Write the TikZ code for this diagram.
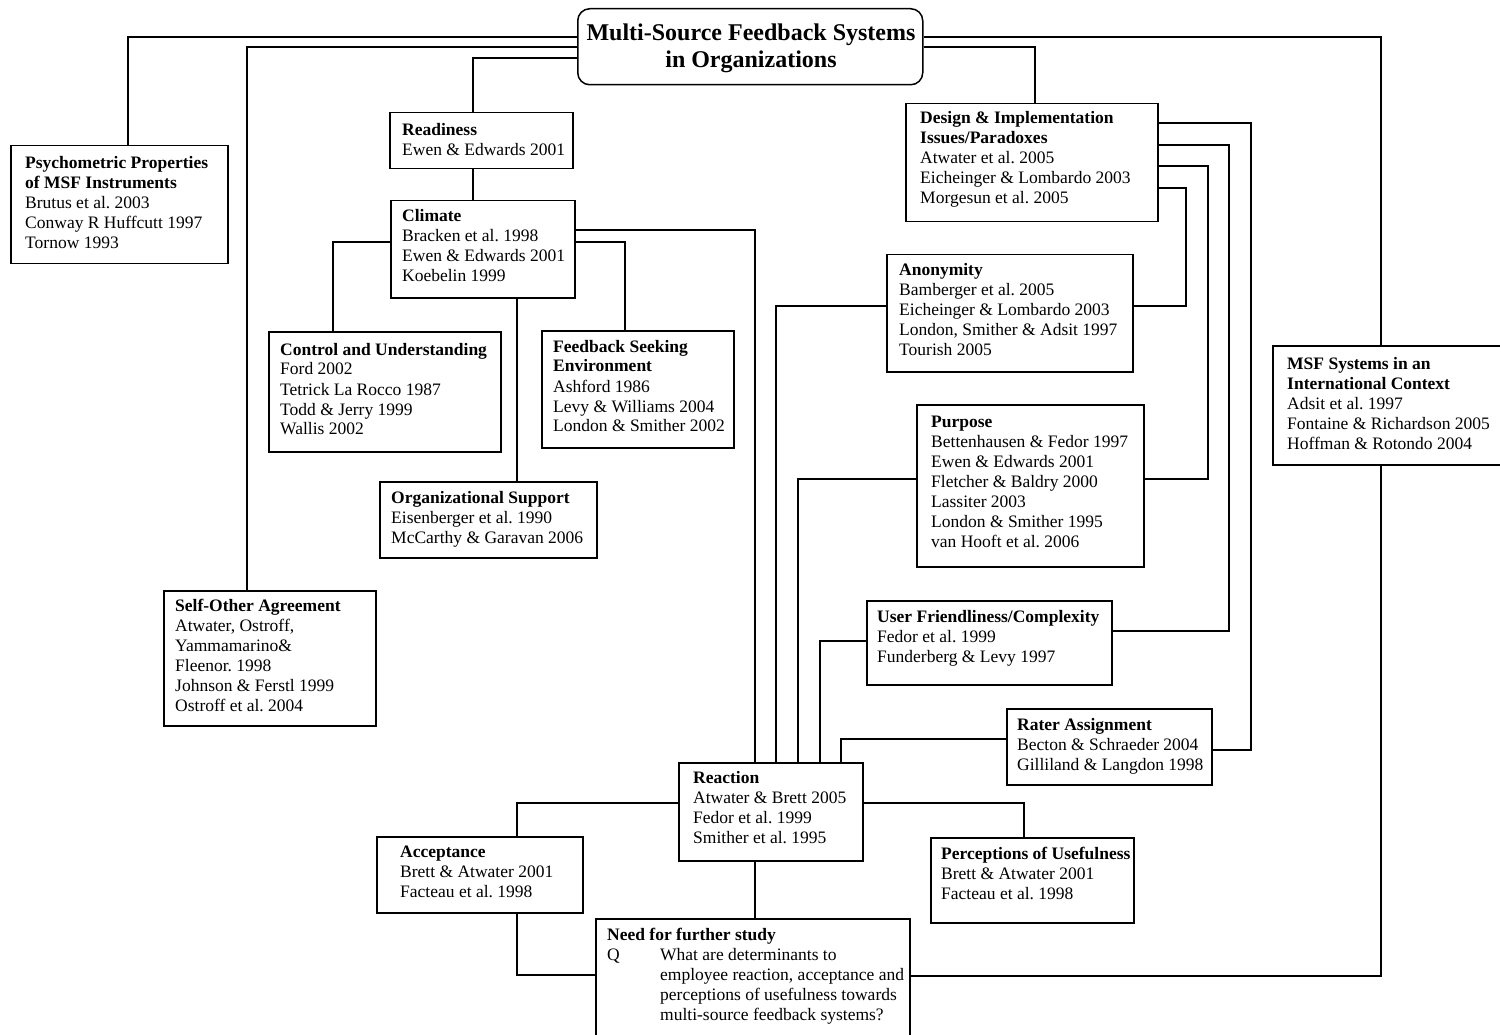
\documentclass[tikz,border=0pt]{standalone}
\usepackage{fontspec}
\setmainfont{Liberation Serif}
\frenchspacing
\begin{document}
\begin{tikzpicture}[x=1pt,y=-1pt,
  frame/.style={draw, line width=1.5pt, rectangle, inner sep=0pt, anchor=north west, fill=white},
  body/.style={inner sep=0pt, anchor=base west, font=\fontsize{17.5}{20}\selectfont},
  conn/.style={line width=1.5pt}]
\useasboundingbox (0,0) rectangle (1500,1035);
\clip (0,0) rectangle (1500,1035);

% #1 name, #2 x, #3 y, #4 width, #5 height, #6 left padding, #7 first baseline, #8 lines
\newcommand\topicbox[8]{%
  \node[frame, minimum width=#4pt, minimum height=#5pt] (#1) at (#2,#3) {};
  \node[body] (#1-text) at ([xshift=#6pt, yshift=-#7pt]#1.north west)
    {\begin{tabular}[t]{@{}l@{}}#8\end{tabular}};
}

% central topic
\node[frame, rounded corners=12pt, minimum width=345pt, minimum height=76pt] (title) at (577,8) {};
\node[inner sep=0pt, anchor=base, font=\fontsize{24}{27}\selectfont\bfseries] (title-text) at (751,41)
  {\begin{tabular}[t]{@{}c@{}}Multi-Source Feedback Systems\\in Organizations\end{tabular}};

\topicbox{psych}{10}{145}{217}{118}{15}{24}{\textbf{Psychometric Properties}\\\textbf{of MSF Instruments}\\Brutus et al. 2003\\Conway R Huffcutt 1997\\Tornow 1993}
\topicbox{readiness}{389}{112}{183}{56}{13}{24}{\textbf{Readiness}\\Ewen \& Edwards 2001}
\topicbox{climate}{390}{200}{184}{97}{12}{22}{\textbf{Climate}\\Bracken et al. 1998\\Ewen \& Edwards 2001\\Koebelin 1999}
\topicbox{control}{268}{331}{232}{120}{12}{24}{\textbf{Control and Understanding}\\Ford 2002\\Tetrick La Rocco 1987\\Todd \& Jerry 1999\\Wallis 2002}
\topicbox{feedback}{541}{330}{192}{117}{12}{22}{\textbf{Feedback Seeking}\\\textbf{Environment}\\Ashford 1986\\Levy \& Williams 2004\\London \& Smither 2002}
\topicbox{org}{379}{481}{217}{76}{12}{22}{\textbf{Organizational Support}\\Eisenberger et al. 1990\\McCarthy \& Garavan 2006}
\topicbox{selfother}{163}{590}{212}{135}{12}{21}{\textbf{Self-Other Agreement}\\Atwater, Ostroff,\\Yammamarino\&\\Fleenor. 1998\\Johnson \& Ferstl 1999\\Ostroff et al. 2004}
\topicbox{design}{905}{103}{252}{118}{15}{21}{\textbf{Design \& Implementation}\\\textbf{Issues/Paradoxes}\\Atwater et al. 2005\\Eicheinger \& Lombardo 2003\\Morgesun et al. 2005}
\topicbox{anonymity}{886}{254}{246}{117}{13}{22}{\textbf{Anonymity}\\Bamberger et al. 2005\\Eicheinger \& Lombardo 2003\\London, Smither \& Adsit 1997\\Tourish 2005}
\topicbox{purpose}{916}{404}{227}{162}{15}{23}{\textbf{Purpose}\\Bettenhausen \& Fedor 1997\\Ewen \& Edwards 2001\\Fletcher \& Baldry 2000\\Lassiter 2003\\London \& Smither 1995\\van Hooft et al. 2006}
\topicbox{user}{866}{600}{245}{84}{11}{22}{\textbf{User Friendliness/Complexity}\\Fedor et al. 1999\\Funderberg \& Levy 1997}
\topicbox{rater}{1006}{708}{205}{76}{11}{22}{\textbf{Rater Assignment}\\Becton \& Schraeder 2004\\Gilliland \& Langdon 1998}
\topicbox{msf}{1272}{345}{233}{119}{15}{24}{\textbf{MSF Systems in an}\\\textbf{International Context}\\Adsit et al. 1997\\Fontaine \& Richardson 2005\\Hoffman \& Rotondo 2004}
\topicbox{reaction}{678}{762}{184}{98}{15}{21}{\textbf{Reaction}\\Atwater \& Brett 2005\\Fedor et al. 1999\\Smither et al. 1995}
\topicbox{acceptance}{376}{836}{206}{76}{24}{21}{\textbf{Acceptance}\\Brett \& Atwater 2001\\Facteau et al. 1998}
\topicbox{perceptions}{930}{837}{203}{85}{11}{22}{\textbf{Perceptions of Usefulness}\\Brett \& Atwater 2001\\Facteau et al. 1998}
\topicbox{need}{595}{918}{314}{127}{12}{22}{\textbf{Need for further study}\\\makebox[53pt][l]{Q}What are determinants to\\\hspace*{53pt}employee reaction, acceptance and\\\hspace*{53pt}perceptions of usefulness towards\\\hspace*{53pt}multi-source feedback systems?}

% connectors from the central topic
\draw[conn] (title.west |- 0,37) -| (128,0 |- psych.north);
\draw[conn] (title.west |- 0,47) -| (247,0 |- selfother.north);
\draw[conn] (title.west |- 0,58) -| (473,0 |- readiness.north);
\draw[conn] (title.east |- 0,37) -| (1381,0 |- msf.north);
\draw[conn] (title.east |- 0,47) -| (1035,0 |- design.north);

% readiness and climate branch
\draw[conn] (473,0 |- readiness.south) -- (473,0 |- climate.north);
\draw[conn] (climate.west |- 0,242) -| (333,0 |- control.north);
\draw[conn] (climate.east |- 0,230) -| (755,0 |- reaction.north);
\draw[conn] (climate.east |- 0,242) -| (625,0 |- feedback.north);
\draw[conn] (517,0 |- climate.south) -- (517,0 |- org.north);

% design and implementation issues
\draw[conn] (design.east |- 0,123) -| (1251,750) -- (rater.east |- 0,750);
\draw[conn] (design.east |- 0,145) -| (1229,631) -- (user.east |- 0,631);
\draw[conn] (design.east |- 0,166) -| (1208,479) -- (purpose.east |- 0,479);
\draw[conn] (design.east |- 0,188) -| (1186,306) -- (anonymity.east |- 0,306);

% issues feeding into reaction
\draw[conn] (anonymity.west |- 0,306) -| (776,0 |- reaction.north);
\draw[conn] (purpose.west |- 0,479) -| (798,0 |- reaction.north);
\draw[conn] (user.west |- 0,641) -| (820,0 |- reaction.north);
\draw[conn] (rater.west |- 0,739) -| (841,0 |- reaction.north);

% outcomes
\draw[conn] (reaction.west |- 0,803) -| (517,0 |- acceptance.north);
\draw[conn] (reaction.east |- 0,803) -| (1024,0 |- perceptions.north);
\draw[conn] (755,0 |- reaction.south) -- (755,0 |- need.north);
\draw[conn] (517,0 |- acceptance.south) |- (need.west |- 0,975);
\draw[conn] (1381,0 |- msf.south) |- (need.east |- 0,976);
\end{tikzpicture}
\end{document}
